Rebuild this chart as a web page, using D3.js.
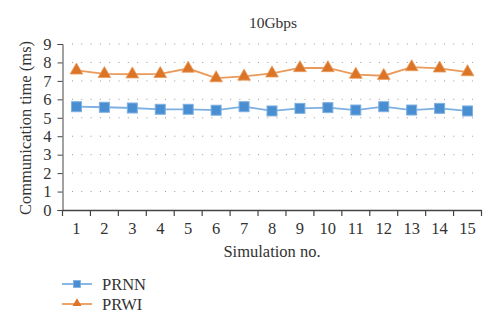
<!DOCTYPE html>
<html><head><meta charset="utf-8">
<script src="https://cdn.jsdelivr.net/npm/d3@7"></script>
<style>body{margin:0;background:#fff}svg{display:block}text{font-family:"Liberation Serif","DejaVu Serif",serif;fill:#333}</style>
</head><body>
<script>
const categories = ["1","2","3","4","5","6","7","8","9","10","11","12","13","14","15"];
const prnn = [5.60,5.57,5.53,5.46,5.46,5.41,5.60,5.37,5.51,5.55,5.42,5.60,5.42,5.51,5.37];
const prwi = [7.57,7.38,7.36,7.38,7.67,7.15,7.24,7.41,7.70,7.70,7.34,7.28,7.75,7.68,7.48];
const yTicks = [0,1,2,3,4,5,6,7,8,9];
const seriesNames = ["PRNN","PRWI"];

const W=500,H=328;
const svg=d3.select("body").append("svg").attr("width",W).attr("height",H);
const x=d3.scaleBand().domain(categories).range([62.5,481.5]);
const y=d3.scaleLinear().domain([0,9]).range([210,44]);

svg.append("g").selectAll("line").data(yTicks.filter(d=>d>0)).join("line")
  .attr("x1",72).attr("x2",478).attr("y1",d=>y(d)).attr("y2",d=>y(d))
  .attr("stroke","#999").attr("stroke-width",1).attr("stroke-dasharray","1,8.3");

const ya=svg.append("g").attr("transform","translate(62.5,0)").call(d3.axisLeft(y).tickValues(yTicks).tickSize(5).tickPadding(6).tickFormat(d3.format("d")));
ya.select(".domain").attr("stroke","#444");
ya.selectAll(".tick line").attr("stroke","#444");
ya.selectAll("text").attr("font-size",16.5).attr("font-family","Liberation Serif").attr("fill","#333");

const xa=svg.append("g").attr("transform","translate(0,210)").call(d3.axisBottom(x).tickSize(0).tickPadding(12));
xa.select(".domain").attr("stroke","#444").attr("stroke-width",1.5);
xa.selectAll("text").attr("font-size",16.5).attr("font-family","Liberation Serif").attr("fill","#333");
const bounds=categories.map(c=>x(c)).concat([x.range()[1]]);
svg.append("g").selectAll("line").data(bounds).join("line")
  .attr("x1",d=>d).attr("x2",d=>d).attr("y1",210).attr("y2",216).attr("stroke","#444").attr("stroke-width",1.2);

const cx=c=>x(c)+x.bandwidth()/2;
const line=d3.line().x((d,i)=>cx(categories[i])).y(d=>y(d));
const blue="#4a8ed2", blueL="#7db0e2", orange="#dc7428", orangeL="#ea9a5a";

svg.append("path").datum(prwi).attr("d",line).attr("fill","none").attr("stroke",orangeL).attr("stroke-width",1.8);
svg.append("path").datum(prnn).attr("d",line).attr("fill","none").attr("stroke",blueL).attr("stroke-width",1.8);

const tri=d3.symbol().type(d3.symbolTriangle).size(70);
svg.append("g").selectAll("path").data(prwi).join("path")
  .attr("d",tri).attr("transform",(d,i)=>`translate(${cx(categories[i])},${y(d)})`)
  .attr("fill",orange).attr("stroke",orangeL).attr("stroke-width",0.8);
svg.append("g").selectAll("rect").data(prnn).join("rect")
  .attr("x",(d,i)=>cx(categories[i])-5).attr("y",d=>y(d)-5).attr("width",10).attr("height",10)
  .attr("fill",blue).attr("stroke",blueL).attr("stroke-width",1);

svg.append("text").attr("x",273).attr("y",28).attr("text-anchor","middle").attr("font-size",15.5).text("10Gbps");
svg.append("text").attr("transform","translate(31,128) rotate(-90)").attr("text-anchor","middle").attr("font-size",16.5).text("Communication time (ms)");
svg.append("text").attr("x",272).attr("y",257).attr("text-anchor","middle").attr("font-size",16.5).text("Simulation no.");

const lg=svg.append("g");
[0,1].forEach(i=>{
  const ly=284+i*20;
  lg.append("line").attr("x1",62).attr("x2",92).attr("y1",ly).attr("y2",ly).attr("stroke",i?orangeL:blueL).attr("stroke-width",1.8);
  if(i===0) lg.append("rect").attr("x",73.5).attr("y",ly-3.5).attr("width",7).attr("height",7).attr("fill",blue).attr("stroke",blueL).attr("stroke-width",0.8);
  else lg.append("path").attr("d",d3.symbol().type(d3.symbolTriangle).size(35)).attr("transform",`translate(77,${ly-0.5})`).attr("fill",orange);
  lg.append("text").attr("x",102).attr("y",ly+5.5).attr("font-size",16.5).text(seriesNames[i]);
});
</script>
</body></html>
